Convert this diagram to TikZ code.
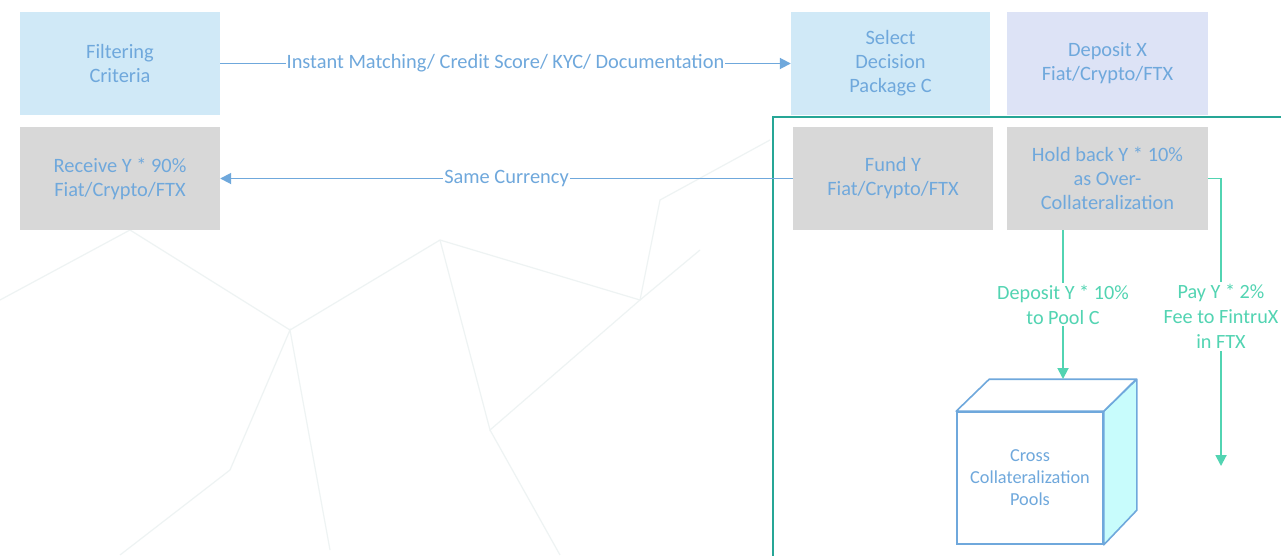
\documentclass[tikz,border=0pt]{standalone}
\usepackage{fontspec}
\setmainfont{Carlito}
\usetikzlibrary{arrows.meta}
\definecolor{txtblue}{RGB}{111,168,220}
\definecolor{boxblue}{RGB}{208,233,247}
\definecolor{boxlav}{RGB}{221,227,246}
\definecolor{boxgray}{RGB}{216,216,216}
\definecolor{framet}{RGB}{38,166,150}
\definecolor{arrgreen}{RGB}{82,212,178}
\definecolor{cubeside}{RGB}{200,252,252}
\definecolor{bgnet}{RGB}{238,243,243}
\tikzset{
  stepbox/.style={rectangle, minimum width=200pt, minimum height=103pt, inner sep=0pt,
    align=center, text=txtblue, font=\fontsize{20.4}{24}\selectfont},
  bluearr/.style={draw=txtblue, line width=1.8pt, -{Triangle[length=11pt,width=11pt]}},
  greenarr/.style={draw=arrgreen, line width=1.9pt, -{Triangle[length=11pt,width=11pt]}},
  bluelbl/.style={fill=white, inner sep=1pt, text=txtblue, font=\fontsize{20.4}{24}\selectfont},
  greenlbl/.style={fill=white, inner sep=2pt, align=center, text=arrgreen, font=\fontsize{20.2}{25}\selectfont},
}
\begin{document}
\begin{tikzpicture}[x=1pt,y=-1pt]
\useasboundingbox (0,0) rectangle (1281,555);
\fill[white] (0,0) rectangle (1281,555);
% faint background network
\begin{scope}[draw=bgnet, line width=1.2pt]
\draw (0,300) -- (130,230) -- (290,330) -- (440,240) -- (640,300) -- (700,250);
\draw (230,470) -- (290,330) -- (330,550);
\draw (440,240) -- (490,430) -- (640,300);
\draw (490,430) -- (560,555);
\draw (640,300) -- (660,200) -- (770,140);
\draw (230,470) -- (120,555);
\end{scope}
% frame
\draw[framet, line width=2pt] (1290,117) -- (773,117) -- (773,565);
% boxes
\node[stepbox, fill=boxblue] (filt) at (120,63.5) {Filtering\\Criteria};
\node[stepbox, fill=boxgray] (recv) at (120,178.5) {Receive Y * 90\%\\Fiat/Crypto/FTX};
\node[stepbox, fill=boxblue, minimum width=199pt] (sel) at (890.5,63.5) {Select\\Decision\\Package C};
\node[stepbox, fill=boxlav, minimum width=201pt] (depx) at (1107.5,63.5) {Deposit X\\Fiat/Crypto/FTX};
\node[stepbox, fill=boxgray] (fund) at (893,178.5) {Fund Y\\Fiat/Crypto/FTX};
\node[stepbox, fill=boxgray, minimum width=201pt] (hold) at (1107.5,178.5) {Hold back Y * 10\%\\as Over-\\Collateralization};
% cube
\node[rectangle, draw=txtblue, line width=1.6pt, fill=white, minimum width=146pt, minimum height=132pt,
  inner sep=0pt, align=center, text=txtblue, font=\fontsize{18.3}{22}\selectfont] (cube) at (1030,478)
  {Cross\\Collateralization\\Pools};
\filldraw[draw=txtblue, fill=cubeside, line width=1.6pt, line join=round]
  (cube.north east) -- ++(33,-32) -- ++(0,131) -- (cube.south east) -- cycle;
\filldraw[draw=txtblue, fill=white, line width=1.6pt, line join=round]
  (cube.north west) -- ++(33,-32) -- ++(147,0) -- (cube.north east) -- cycle;
\coordinate (cubetop) at (1063,379);
\coordinate (feeend) at (1221,466);
\coordinate (feecorner) at (1221,178.5);
% connectors
\draw[bluearr] (filt.east) -- node[bluelbl] {Instant Matching/ Credit Score/ KYC/ Documentation} (sel.west);
\draw[bluearr] (fund.west) -- node[bluelbl] {Same Currency} (recv.east);
\draw[greenarr] (hold.south -| cubetop) -- node[greenlbl, pos=0.5] {Deposit Y * 10\%\\to Pool C} (cubetop);
\draw[greenarr] (hold.east) -- (feecorner) -- node[greenlbl, pos=0.48] {Pay Y * 2\%\\Fee to FintruX\\in FTX} (feeend);
\end{tikzpicture}
\end{document}
